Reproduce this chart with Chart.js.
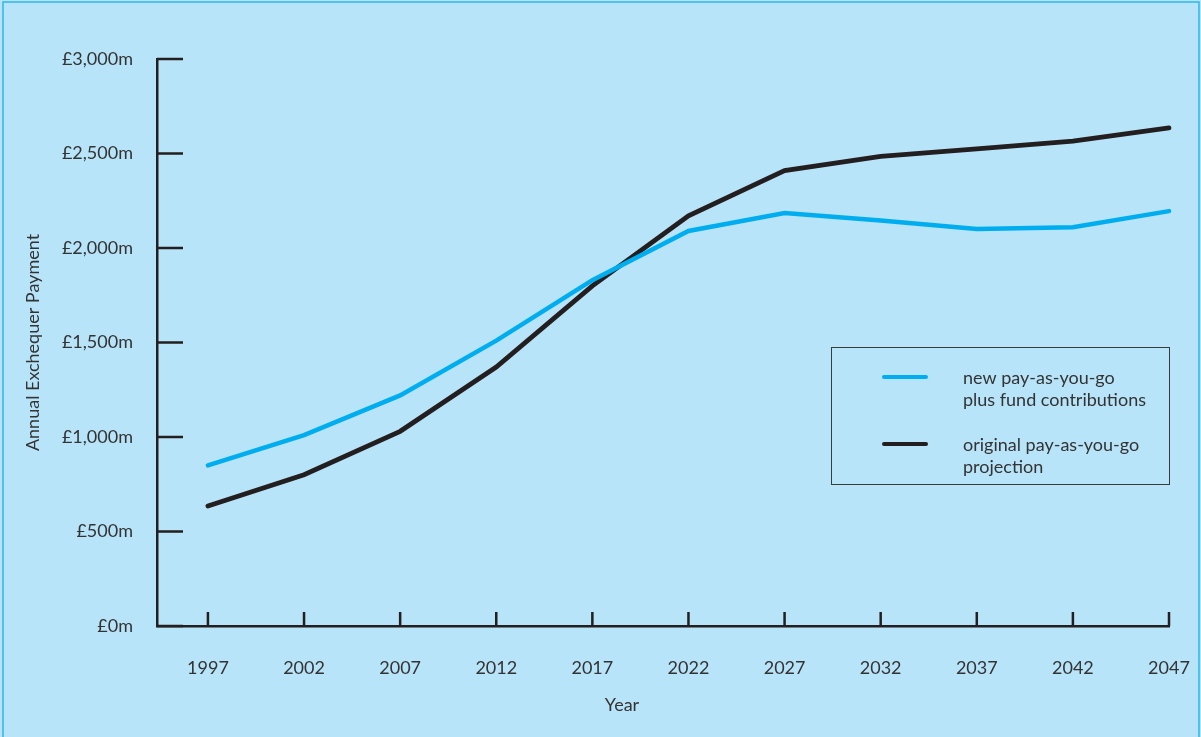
<!DOCTYPE html>
<html>
<head>
<meta charset="utf-8">
<title>Annual Exchequer Payment</title>
<script src="https://cdn.jsdelivr.net/npm/chart.js@4/dist/chart.umd.min.js"></script>
<style>
  html, body { margin: 0; padding: 0; background: #b8e4f9; }
  #wrap { width: 1201px; height: 737px; position: relative; }
</style>
</head>
<body>
<div id="wrap"><canvas id="payChart"></canvas></div>
<script>
const years = [1997, 2002, 2007, 2012, 2017, 2022, 2027, 2032, 2037, 2042, 2047];
const newPaygPlusFund = [850, 1010, 1220, 1510, 1830, 2090, 2185, 2145, 2100, 2110, 2195];
const originalPayg = [635, 800, 1030, 1370, 1800, 2170, 2410, 2485, 2525, 2565, 2635];
const yTicks = [0, 500, 1000, 1500, 2000, 2500, 3000];
const legendText = [
  ['new pay-as-you-go', 'plus fund contributions'],
  ['original pay-as-you-go', 'projection']
];
const xTitle = 'Year';

const ink = '#231f20';
const textColor = '#333333';
const fontFamily = 'Lato, "Open Sans", sans-serif';

function toPoints(values) {
  return years.map((y, i) => ({ x: y, y: values[i] }));
}

// page fill and the thin frame round it
const backdrop = {
  id: 'backdrop',
  beforeDraw(chart) {
    const ctx = chart.ctx;
    ctx.save();
    ctx.fillStyle = '#b8e4f9';
    ctx.fillRect(0, 0, chart.width, chart.height);
    ctx.strokeStyle = '#2cb6ea';
    ctx.lineWidth = 1.5;
    ctx.strokeRect(3, 2, chart.width - 5, chart.height + 10);
    ctx.restore();
  }
};

// short tick marks pointing into the plot from both axes
const innerTicks = {
  id: 'innerTicks',
  beforeDatasetsDraw(chart) {
    const ctx = chart.ctx;
    const { x, y } = chart.scales;
    const area = chart.chartArea;
    ctx.save();
    ctx.strokeStyle = ink;
    ctx.lineWidth = 2.5;
    ctx.lineCap = 'butt';
    ctx.beginPath();
    yTicks.forEach(v => {
      const py = y.getPixelForValue(v);
      ctx.moveTo(area.left, py);
      ctx.lineTo(area.left + 26, py);
    });
    years.forEach(v => {
      const px = x.getPixelForValue(v);
      ctx.moveTo(px, area.bottom);
      ctx.lineTo(px, area.bottom - 14);
    });
    ctx.stroke();

    // x axis title sits a little left of the axis middle
    ctx.font = '18px ' + fontFamily;
    ctx.fillStyle = textColor;
    ctx.textAlign = 'center';
    ctx.textBaseline = 'middle';
    ctx.fillText(xTitle, area.left + 465, x.bottom - 32);
    ctx.restore();
  }
};

// boxed legend sitting at the right of the plot
const boxLegend = {
  id: 'boxLegend',
  afterDraw(chart) {
    const ctx = chart.ctx;
    const area = chart.chartArea;
    const right = area.right;
    const left = right - 338;
    const top = 347;
    const bottom = 484;
    ctx.save();
    ctx.strokeStyle = '#3a3a3a';
    ctx.lineWidth = 1;
    ctx.strokeRect(left + 0.5, top + 0.5, right - left, bottom - top);
    ctx.font = '18px ' + fontFamily;
    ctx.fillStyle = textColor;
    ctx.textBaseline = 'middle';
    ctx.textAlign = 'left';
    chart.data.datasets.forEach((ds, i) => {
      const rowY = top + 30 + i * 67;
      ctx.strokeStyle = ds.borderColor;
      ctx.lineWidth = 4;
      ctx.lineCap = 'round';
      ctx.beginPath();
      ctx.moveTo(left + 53, rowY);
      ctx.lineTo(left + 95, rowY);
      ctx.stroke();
      legendText[i].forEach((line, j) => {
        ctx.fillText(line, left + 132, rowY + 1 + j * 22);
      });
    });
    ctx.restore();
  }
};

const ctx = document.getElementById('payChart').getContext('2d');
new Chart(ctx, {
  type: 'line',
  data: {
    datasets: [
      {
        label: legendText[0].join(' '),
        data: toPoints(newPaygPlusFund),
        borderColor: '#00adef',
        borderWidth: 4.5,
        borderCapStyle: 'round',
        pointRadius: 0,
        tension: 0,
        clip: false
      },
      {
        label: legendText[1].join(' '),
        data: toPoints(originalPayg),
        borderColor: ink,
        borderWidth: 4.8,
        borderCapStyle: 'round',
        pointRadius: 0,
        tension: 0,
        clip: false
      }
    ]
  },
  options: {
    responsive: true,
    maintainAspectRatio: false,
    animation: false,
    layout: { padding: { left: 0, right: 32, top: 59, bottom: 0 } },
    plugins: {
      legend: { display: false },
      tooltip: { enabled: false }
    },
    scales: {
      x: {
        type: 'linear',
        min: 1994.35,
        max: 2047,
        afterBuildTicks(scale) {
          scale.ticks = years.map(v => ({ value: v }));
        },
        afterFit(scale) {
          scale.height = 111;
          scale.paddingLeft = 0;
          scale.paddingRight = 0;
        },
        border: { color: ink, width: 2.5 },
        grid: { display: false, drawTicks: false },
        ticks: {
          color: textColor,
          font: { family: fontFamily, size: 18 },
          padding: 31,
          maxRotation: 0,
          callback: v => String(v)
        },
        title: { display: false }
      },
      y: {
        min: 0,
        max: 3000,
        afterBuildTicks(scale) {
          scale.ticks = yTicks.map(v => ({ value: v }));
        },
        afterFit(scale) {
          scale.width = 157;
          scale.paddingTop = 0;
          scale.paddingBottom = 0;
        },
        border: { color: ink, width: 2.5 },
        grid: { display: false, drawTicks: false },
        ticks: {
          color: textColor,
          font: { family: fontFamily, size: 18 },
          padding: 24,
          callback: v => '£' + v.toLocaleString('en-GB') + 'm'
        },
        title: {
          display: true,
          text: 'Annual Exchequer Payment',
          color: textColor,
          font: { family: fontFamily, size: 18 },
          padding: { top: 22, bottom: 0 }
        }
      }
    }
  },
  plugins: [backdrop, innerTicks, boxLegend]
});
</script>
</body>
</html>
